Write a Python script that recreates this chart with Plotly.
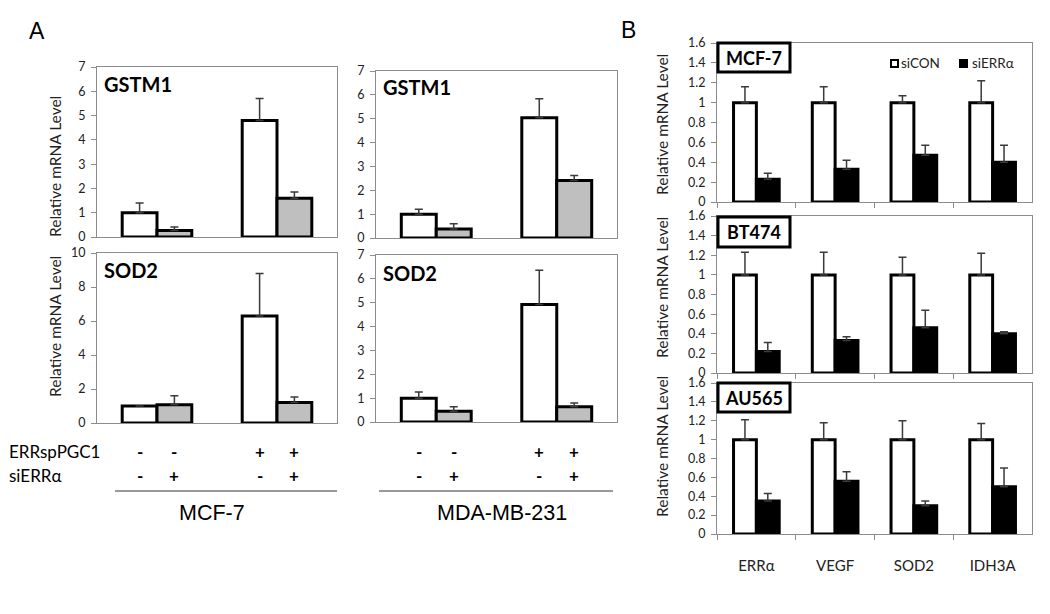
import plotly.graph_objects as go

# ---------------- DATA ----------------
# Panel A: two conditions per cell line (ERRspPGC1 -, +), two series (siERRα -, +)
a_categories = ["ERRspPGC1 -", "ERRspPGC1 +"]
a_series = ["siERRα -", "siERRα +"]
errsp_signs = ["-", "-", "+", "+"]
sierr_signs = ["-", "+", "-", "+"]

mcf7_gstm1_ctrl = [1.0, 4.8]
mcf7_gstm1_ctrl_err = [0.4, 0.9]
mcf7_gstm1_si = [0.27, 1.6]
mcf7_gstm1_si_err = [0.14, 0.25]

mcf7_sod2_ctrl = [1.0, 6.3]
mcf7_sod2_ctrl_err = [0.0, 2.5]
mcf7_sod2_si = [1.08, 1.2]
mcf7_sod2_si_err = [0.52, 0.33]

mda_gstm1_ctrl = [1.0, 5.04]
mda_gstm1_ctrl_err = [0.2, 0.8]
mda_gstm1_si = [0.38, 2.41]
mda_gstm1_si_err = [0.22, 0.21]

mda_sod2_ctrl = [1.0, 4.93]
mda_sod2_ctrl_err = [0.26, 1.43]
mda_sod2_si = [0.45, 0.64]
mda_sod2_si_err = [0.19, 0.16]

# Panel B
b_genes = ["ERRα", "VEGF", "SOD2", "IDH3A"]
b_series = ["siCON", "siERRα"]

b_mcf7_con = [1.0, 1.0, 1.0, 1.0]
b_mcf7_con_err = [0.16, 0.16, 0.07, 0.22]
b_mcf7_si = [0.23, 0.33, 0.47, 0.40]
b_mcf7_si_err = [0.06, 0.09, 0.10, 0.17]

b_bt474_con = [1.0, 1.0, 1.0, 1.0]
b_bt474_con_err = [0.23, 0.23, 0.18, 0.22]
b_bt474_si = [0.22, 0.33, 0.46, 0.40]
b_bt474_si_err = [0.09, 0.04, 0.18, 0.02]

b_au565_con = [1.0, 1.0, 1.0, 1.0]
b_au565_con_err = [0.21, 0.18, 0.20, 0.17]
b_au565_si = [0.35, 0.56, 0.30, 0.50]
b_au565_si_err = [0.08, 0.10, 0.05, 0.20]

# ---------------- LAYOUT HELPERS ----------------
# page is 1050x614; the html body has an 8px margin, so the figure is
# drawn 8px in from the page corner and sized to fit the window.
OFF = 8
W, H = 1050 - 2 * OFF, 614 - 2 * OFF
def px(x):
    return (x - OFF) / W
def py(y):
    return 1 - (y - OFF) / H

CAL = "Lato, Carlito, Calibri, sans-serif"
ARIAL = "Liberation Sans, Arial, sans-serif"
FRAME = "#8c8c8c"
TXT = "#222222"

fig = go.Figure()

def add_pair(ax, cats, v1, e1, v2, e2, names, c1, c2):
    for vals, errs, name, col in ((v1, e1, names[0], c1), (v2, e2, names[1], c2)):
        fig.add_trace(go.Bar(
            x=cats, y=vals, name=name, showlegend=False,
            marker=dict(color=col, line=dict(color="black", width=3)),
            error_y=dict(type="data", symmetric=False, array=errs,
                         arrayminus=[0] * len(errs), color="#3a3a3a",
                         thickness=1.5, width=4),
            xaxis="x" + ("" if ax == 1 else str(ax)),
            yaxis="y" + ("" if ax == 1 else str(ax)),
        ))

GRAY = "#bfbfbf"
add_pair(1, a_categories, mcf7_gstm1_ctrl, mcf7_gstm1_ctrl_err, mcf7_gstm1_si, mcf7_gstm1_si_err, a_series, "white", GRAY)
add_pair(2, a_categories, mcf7_sod2_ctrl, mcf7_sod2_ctrl_err, mcf7_sod2_si, mcf7_sod2_si_err, a_series, "white", GRAY)
add_pair(3, a_categories, mda_gstm1_ctrl, mda_gstm1_ctrl_err, mda_gstm1_si, mda_gstm1_si_err, a_series, "white", GRAY)
add_pair(4, a_categories, mda_sod2_ctrl, mda_sod2_ctrl_err, mda_sod2_si, mda_sod2_si_err, a_series, "white", GRAY)
add_pair(5, b_genes, b_mcf7_con, b_mcf7_con_err, b_mcf7_si, b_mcf7_si_err, b_series, "white", "black")
add_pair(6, b_genes, b_bt474_con, b_bt474_con_err, b_bt474_si, b_bt474_si_err, b_series, "white", "black")
add_pair(7, b_genes, b_au565_con, b_au565_con_err, b_au565_si, b_au565_si_err, b_series, "white", "black")

# panel boxes in page pixels: (x0, x1, ytop, ybottom, ymax, dtick)
panels = {
    1: (97, 337, 67, 237, 7, 1),
    2: (97, 337, 253, 423, 10, 2),
    3: (376, 617, 71, 238, 7, 1),
    4: (376, 617, 255, 422, 7, 1),
    5: (717, 1032, 43, 202, 1.6, 0.2),
    6: (717, 1032, 216, 373, 1.6, 0.2),
    7: (717, 1032, 383, 534, 1.6, 0.2),
}

layout = dict(
    width=W, height=H, margin=dict(l=0, r=0, t=0, b=0, autoexpand=False),
    paper_bgcolor="white", plot_bgcolor="white",
    barmode="group", bargap=0.42, bargroupgap=0.0,
    showlegend=False, font=dict(family=CAL, color=TXT),
)

for k, (x0, x1, yt, yb, ymax, dt) in panels.items():
    sx = "" if k == 1 else str(k)
    isB = k >= 5
    layout["xaxis" + sx] = dict(
        domain=[px(x0), px(x1)], anchor="y" + sx, automargin=False,
        showline=True, mirror=True, linecolor=FRAME, linewidth=1,
        showgrid=False, zeroline=False,
        ticks="outside" if isB else "", tickson="boundaries", ticklen=5,
        tickcolor=FRAME,
        showticklabels=(k == 7), tickfont=dict(family=CAL, size=15, color=TXT),
        ticklabelstandoff=18,
        fixedrange=True,
    )
    layout["yaxis" + sx] = dict(
        domain=[py(yb), py(yt)], anchor="x" + sx, automargin=False,
        range=[0, ymax], dtick=dt, tick0=0,
        showline=True, mirror=True, linecolor=FRAME, linewidth=1,
        showgrid=False, zeroline=False,
        ticks="outside", ticklen=5, tickcolor=FRAME,
        tickfont=dict(family=CAL, size=12.5, color=TXT),
        ticklabelstandoff=3,
        fixedrange=True,
    )

fig.update_layout(**layout)

ann = []
shapes = []

def note(text, x, y, size, family=CAL, xanchor="center", angle=0, xref="paper", color="black"):
    ann.append(dict(text=text, x=x, y=y, xref=xref, yref="paper",
                    xanchor=xanchor, yanchor="middle", showarrow=False, textangle=angle,
                    font=dict(family=family, size=size, color=color)))

# Panel letters
note("A", px(37), py(31), 23, ARIAL)
note("B", px(628), py(30), 23, ARIAL)

# Y titles
for (xc, yc) in [(55, 167), (55, 327), (662, 125), (662, 288), (662, 447)]:
    note("Relative mRNA Level", px(xc), py(yc), 15.5, angle=-90, color=TXT)

# Gene labels in panel A
for (txt, xl, yc) in [("GSTM1", 102, 84), ("SOD2", 102, 270), ("GSTM1", 381, 87), ("SOD2", 381, 273)]:
    note("<b>" + txt + "</b>", px(xl), py(yc), 20, xanchor="left")

# Cell-line boxes in panel B
for (txt, yt, yb) in [("MCF-7", 43, 72), ("BT474", 217, 247), ("AU565", 383, 412)]:
    shapes.append(dict(type="rect", xref="paper", yref="paper",
                       x0=px(718), x1=px(790), y0=py(yb), y1=py(yt),
                       line=dict(color="black", width=3), fillcolor="white", layer="above"))
    note("<b>" + txt + "</b>", px(754), py((yt + yb) / 2), 18)

# Legend (panel B)
leg = [(b_series[0], 891, "white", 899), (b_series[1], 960, "black", 970)]
for name, sxp, col, tx in leg:
    shapes.append(dict(type="rect", xref="paper", yref="paper",
                       x0=px(sxp), x1=px(sxp + 7), y0=py(67), y1=py(60),
                       line=dict(color="black", width=2), fillcolor=col, layer="above"))
    note(name, px(tx), py(63), 13.5, xanchor="left", color=TXT)

# Treatment rows below panel A
note("ERRspPGC1", px(7), py(452), 17, xanchor="left")
note("siERRα", px(7), py(475), 17, xanchor="left")

half = (1 - 0.42) / 4  # offset of grouped bar centres from category centre
bar_pos = [0 - half, 0 + half, 1 - half, 1 + half]
for xa in ["x2", "x4"]:
    for i, xpos in enumerate(bar_pos):
        note("<b>" + errsp_signs[i] + "</b>", xpos, py(452), 17, xref=xa)
        note("<b>" + sierr_signs[i] + "</b>", xpos, py(475), 17, xref=xa)

# group lines and cell-line labels
for (x0, x1, txt, xc) in [(115, 337, "MCF-7", 212), (379, 613, "MDA-MB-231", 502)]:
    shapes.append(dict(type="line", xref="paper", yref="paper",
                       x0=px(x0), x1=px(x1), y0=py(491), y1=py(491),
                       line=dict(color="#333333", width=1.2)))
    note(txt, px(xc), py(513), 21.5, ARIAL)

fig.update_layout(annotations=ann, shapes=shapes)
fig.write_html("out.html")
